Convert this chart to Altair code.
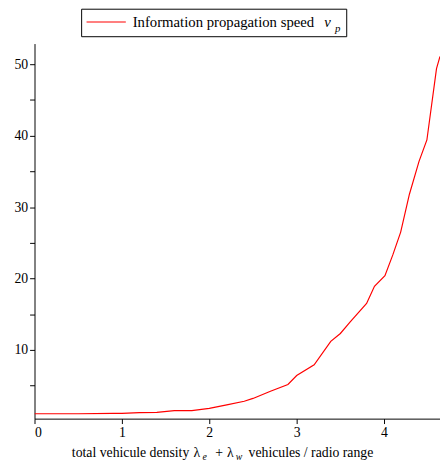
import altair as alt
import pandas as pd

density = [0.0, 0.5, 0.9, 1.0, 1.2, 1.4, 1.6, 1.8, 2.0, 2.2, 2.4, 2.5, 2.7, 2.9, 3.0,
           3.2, 3.39, 3.5, 3.61, 3.8, 3.89, 4.01, 4.1, 4.19, 4.29, 4.4, 4.49, 4.6, 4.64]
speed = [1.05, 1.05, 1.1, 1.1, 1.2, 1.25, 1.5, 1.5, 1.8, 2.3, 2.8, 3.2, 4.2, 5.15, 6.4,
         7.9, 11.2, 12.3, 13.9, 16.5, 18.9, 20.4, 23.3, 26.5, 31.8, 36.4, 39.4, 49.4, 51.1]

df = pd.DataFrame({'x': density, 'y': speed})
F = 'Liberation Serif'

xax = alt.Axis(values=[0, 0.5, 1, 1.5, 2, 2.5, 3, 3.5, 4, 4.5], labelExpr="datum.value % 1 == 0 ? datum.label : ''",
               grid=False, title=None, labelFont=F, labelFontSize=14, labelColor='black',
               domainColor='black', tickColor='black', tickSize=5, format='d')
yax = alt.Axis(values=[5, 10, 15, 20, 25, 30, 35, 40, 45, 50], labelExpr="datum.value % 10 == 0 ? datum.label : ''",
               grid=False, title=None, labelFont=F, labelFontSize=14, labelColor='black',
               domainColor='black', tickColor='black', tickSize=5)

line = alt.Chart(df).mark_line(color='red', strokeWidth=1.2, clip=True).encode(
    x=alt.X('x:Q', scale=alt.Scale(domain=[0, 4.64], nice=False), axis=xax),
    y=alt.Y('y:Q', scale=alt.Scale(domain=[0.37, 52.9], nice=False, zero=False), axis=yax)
)

box = alt.Chart(df.head(1)).mark_rect(fill='white', stroke='black', strokeWidth=1).encode(
    x=alt.value(48), x2=alt.value(318), y=alt.value(-35), y2=alt.value(-7))
key = alt.Chart(df.head(1)).mark_rule(color='red', strokeWidth=1.2).encode(
    x=alt.value(53), x2=alt.value(93), y=alt.value(-22), y2=alt.value(-22))

def txt(s, x, y, size=15, style='normal'):
    return alt.Chart(df.head(1)).mark_text(text=s, align='left', baseline='alphabetic', font=F,
                                           fontSize=size, fontStyle=style, color='black').encode(
        x=alt.value(x), y=alt.value(y))

labels = [
    txt('Information propagation speed', 100, -17),
    txt('v', 295, -17, 15, 'italic'), txt('p', 306, -12, 11, 'italic'),
    txt('total vehicule density', 38, 421, 14),
    txt('λ', 162, 421, 14), txt('e', 171, 424, 10, 'italic'),
    txt('+', 184, 421, 14), txt('λ', 196, 421, 14), txt('w', 205, 424, 10, 'italic'),
    txt('vehicules / radio range', 218, 421, 14),
]

chart = alt.layer(line, box, key, *labels).properties(
    width=413, height=382,
    autosize=alt.AutoSizeParams(type='none'),
    padding={'left': 27, 'top': 32, 'right': 0, 'bottom': 44}
).configure_view(stroke=None)

chart.save("out.html", embed_options={"renderer": "svg", "actions": False})
